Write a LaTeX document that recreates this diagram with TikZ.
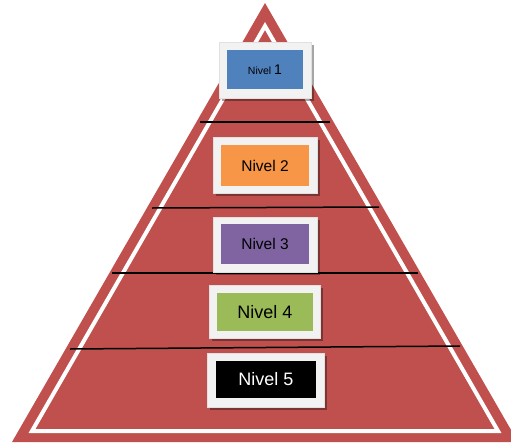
\documentclass[tikz,border=0pt]{standalone}
\usepackage{fontspec}
\setmainfont{Liberation Sans}
\definecolor{tri}{HTML}{C0504D}
\definecolor{frm}{HTML}{F2F2F2}
\definecolor{c1}{HTML}{4F81BD}
\definecolor{c2}{HTML}{F79646}
\definecolor{c3}{HTML}{8064A2}
\definecolor{c4}{HTML}{9BBB59}
\begin{document}
\begin{tikzpicture}[x=1pt,y=-1pt,
  frame/.style={fill=frm,draw=black!12,line width=0.5pt,inner sep=0pt},
  shade/.style={fill=black,opacity=0.35,draw=none,inner sep=0pt},
  level/.style={inner sep=0pt,text=black},
  sep/.style={draw=black,line width=1.5pt}]
\useasboundingbox (0,0) rectangle (511,442);
\clip (0,0) rectangle (511,442);
\fill[tri] (265,3) -- (12,442) -- (518,442) -- cycle;
\draw[white,line width=4pt,line join=miter] (265,26) -- (32,431) -- (498,431) -- cycle;
% separator lines
\draw[sep] (200,122) -- (330,122);
\draw[sep] (152,208) -- (379,207);
\draw[sep] (112,273) -- (418,273);
\draw[sep] (70,349) -- (460,346);
% box 1
\node[shade,minimum width=92pt,minimum height=56pt] (s1) at (268,73) {};
\node[frame,minimum width=92pt,minimum height=56pt] (f1) at (265,70) {};
\node[level,fill=c1,minimum width=76pt,minimum height=39pt] (n1) at (265,69.5) {\fontsize{10.5}{12}\selectfont Nivel \fontsize{14}{14}\selectfont 1};
% box 2
\node[shade,minimum width=104pt,minimum height=56pt] (s2) at (268,168) {};
\node[frame,minimum width=104pt,minimum height=56pt] (f2) at (265,165) {};
\node[level,fill=c2,minimum width=88pt,minimum height=41pt] (n2) at (265,165.5) {\fontsize{15.5}{18}\selectfont Nivel 2};
% box 3
\node[shade,minimum width=104pt,minimum height=55pt] (s3) at (268,247.5) {};
\node[frame,minimum width=104pt,minimum height=55pt] (f3) at (265,244.5) {};
\node[level,fill=c3,minimum width=88pt,minimum height=40pt] (n3) at (265,244) {\fontsize{15.5}{18}\selectfont Nivel 3};
% box 4
\node[shade,minimum width=111pt,minimum height=53pt] (s4) at (267.5,314.5) {};
\node[frame,minimum width=111pt,minimum height=53pt] (f4) at (264.5,311.5) {};
\node[level,fill=c4,minimum width=96pt,minimum height=38pt] (n4) at (265,312) {\fontsize{18}{20}\selectfont Nivel 4};
% box 5
\node[shade,minimum width=117pt,minimum height=54pt] (s5) at (268.5,383) {};
\node[frame,minimum width=117pt,minimum height=54pt] (f5) at (265.5,380) {};
\node[level,fill=black,text=white,minimum width=100pt,minimum height=37pt] (n5) at (266,379.5) {\fontsize{18}{20}\selectfont Nivel 5};
\end{tikzpicture}
\end{document}
